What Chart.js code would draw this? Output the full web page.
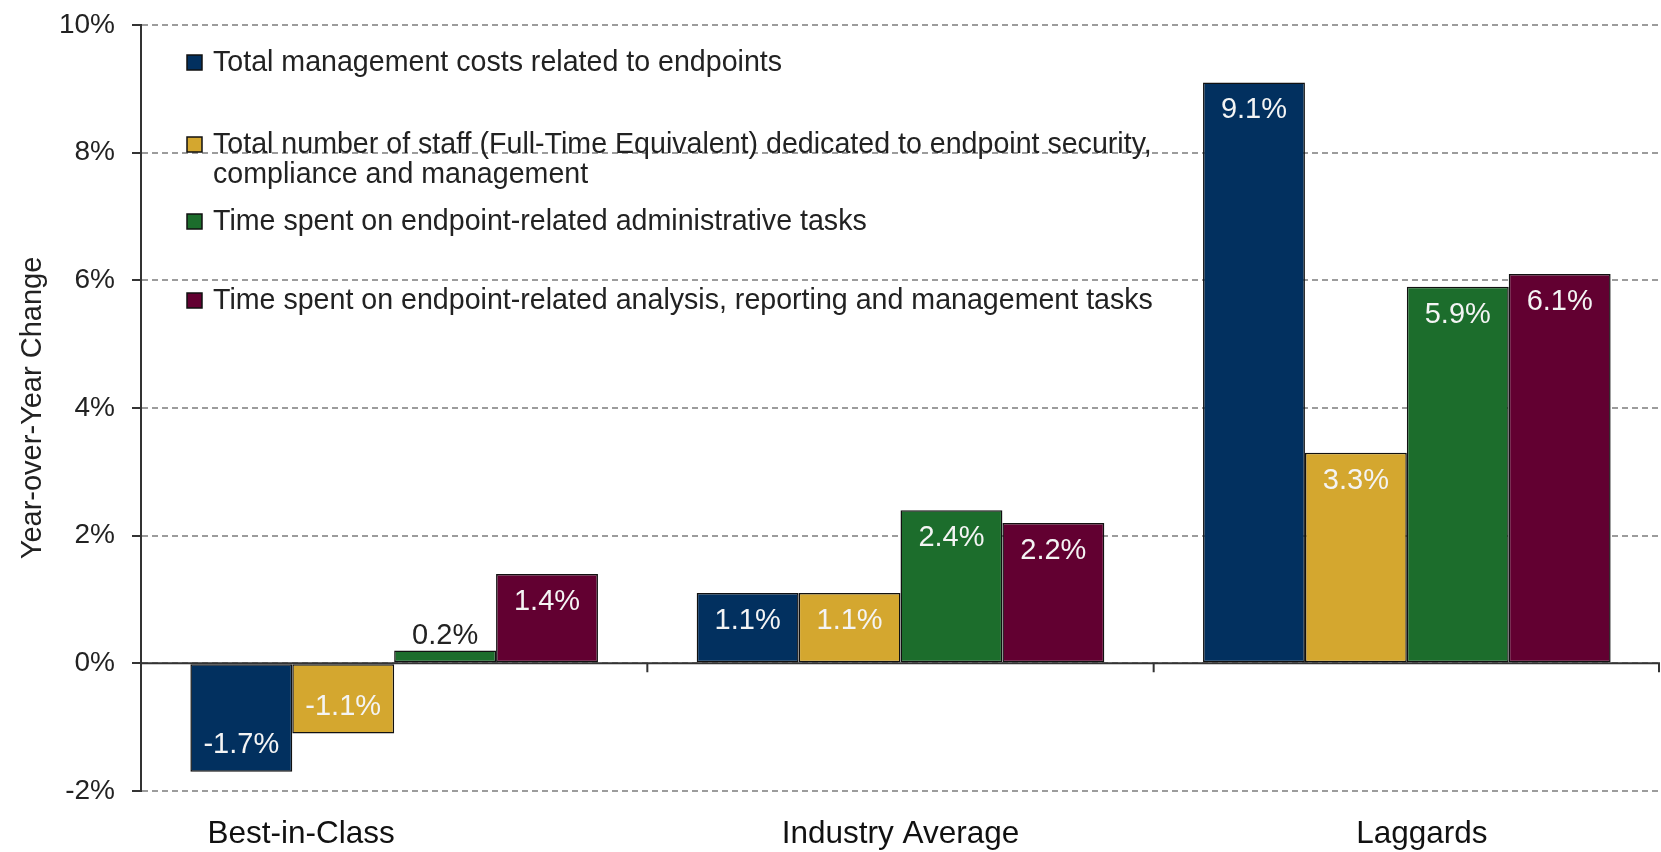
<!DOCTYPE html>
<html>
<head>
<meta charset="utf-8">
<script src="https://cdn.jsdelivr.net/npm/chart.js@4.4.1/dist/chart.umd.min.js"></script>
<style>
  html, body { margin: 0; padding: 0; background: #fff; }
  #chart { display: block; }
</style>
</head>
<body>
<canvas id="chart" width="1661" height="852"></canvas>
<script>
// chart data
const categories = ["Best-in-Class", "Industry Average", "Laggards"];
const seriesLabels = [
    "Total management costs related to endpoints",
    "Total number of staff (Full-Time Equivalent) dedicated to endpoint security,\ncompliance and management",
    "Time spent on endpoint-related administrative tasks",
    "Time spent on endpoint-related analysis, reporting and management tasks",
];
const mgmtCosts = [-1.7, 1.1, 9.1];
const staffFte = [-1.1, 1.1, 3.3];
const adminTime = [0.2, 2.4, 5.9];
const analysisTime = [1.4, 2.2, 6.1];
const seriesColors = ["#02305F", "#D4A72F", "#1C6D2C", "#620031"];
const yMin = -2;
const yMax = 10;
const yStep = 2;

const FONT = "'Liberation Sans', Arial, sans-serif";

// legend rows (centre of first line, relative to chart area top)
const legendRowOffsets = [38, 120, 197, 276];
// the category captions in the original sit off-centre
const categoryLabelShift = [-93, 0, 15];

// zero line + category separator ticks
const zeroLinePlugin = {
    id: "zeroLine",
    beforeDatasetsDraw(chart) {
        const { ctx, chartArea } = chart;
        const y0 = chart.scales.y.getPixelForValue(0);
        const n = categories.length;
        const step = (chartArea.right - chartArea.left) / n;
        ctx.save();
        ctx.strokeStyle = "#333";
        ctx.lineWidth = 2;
        ctx.beginPath();
        ctx.moveTo(chartArea.left, y0);
        ctx.lineTo(chartArea.right, y0);
        for (let i = 1; i <= n; i++) {
            const x = Math.min(chartArea.left + i * step, chartArea.right - 1);
            ctx.moveTo(x, y0);
            ctx.lineTo(x, y0 + 9);
        }
        ctx.stroke();
        ctx.restore();
    },
};

// category captions under the plot
const categoryLabelPlugin = {
    id: "categoryLabels",
    afterDraw(chart) {
        const { ctx, chartArea } = chart;
        const xScale = chart.scales.x;
        ctx.save();
        ctx.font = "31.5px " + FONT;
        ctx.fillStyle = "#111";
        ctx.textAlign = "center";
        ctx.textBaseline = "alphabetic";
        categories.forEach((cat, i) => {
            const x = xScale.getPixelForValue(i) + categoryLabelShift[i];
            ctx.fillText(cat, x, chartArea.bottom + 52);
        });
        ctx.restore();
    },
};

// value labels on the bars
const barLabelPlugin = {
    id: "barLabels",
    afterDatasetsDraw(chart) {
        const ctx = chart.ctx;
        ctx.save();
        ctx.font = "29px " + FONT;
        ctx.textAlign = "center";
        ctx.textBaseline = "middle";
        chart.data.datasets.forEach((ds, i) => {
            const meta = chart.getDatasetMeta(i);
            meta.data.forEach((bar, j) => {
                const v = ds.data[j];
                const h = Math.abs(bar.base - bar.y);
                const text = v.toFixed(1) + "%";
                if (h > 40) {
                    ctx.fillStyle = "#f4f4f4";
                    ctx.fillText(text, bar.x, v >= 0 ? bar.y + 28 : bar.y - 27);
                } else {
                    ctx.fillStyle = "#222";
                    ctx.fillText(text, bar.x, bar.y - 15);
                }
            });
        });
        ctx.restore();
    },
};

// legend drawn inside the plot
const insideLegendPlugin = {
    id: "insideLegend",
    afterDraw(chart) {
        const { ctx, chartArea } = chart;
        ctx.save();
        ctx.font = "28.6px " + FONT;
        ctx.textBaseline = "middle";
        chart.data.datasets.forEach((ds, i) => {
            const y = chartArea.top + legendRowOffsets[i];
            const x = chartArea.left + 46;
            ctx.fillStyle = ds.backgroundColor;
            ctx.fillRect(x, y - 8, 15, 15);
            ctx.strokeStyle = "#111";
            ctx.lineWidth = 1.5;
            ctx.strokeRect(x, y - 8, 15, 15);
            ctx.fillStyle = "#222";
            ds.label.split("\n").forEach((line, k) => {
                ctx.fillText(line, x + 26, y + k * 30);
            });
        });
        ctx.restore();
    },
};

const seriesData = [mgmtCosts, staffFte, adminTime, analysisTime];

const ctx = document.getElementById("chart").getContext("2d");
const chart = new Chart(ctx, {
    type: "bar",
    data: {
        labels: categories,
        datasets: seriesData.map((values, i) => ({
            label: seriesLabels[i],
            data: values,
            backgroundColor: seriesColors[i],
            borderColor: "#111",
            borderWidth: 1.5,
            borderSkipped: false,
            categoryPercentage: 0.805,
            barPercentage: 1.0,
        })),
    },
    options: {
        responsive: false,
        animation: false,
        devicePixelRatio: 1,
        layout: {
            padding: { top: 25, right: 1, bottom: 0, left: 0 },
        },
        scales: {
            x: {
                grid: { display: false },
                border: { display: false },
                ticks: { display: false },
                afterFit: (scale) => {
                    scale.height = 61;
                },
            },
            y: {
                min: yMin,
                max: yMax,
                ticks: {
                    stepSize: yStep,
                    color: "#222",
                    padding: 17,
                    font: { family: FONT, size: 28 },
                    callback: (v) => v + "%",
                },
                grid: {
                    color: "#9c9c9c",
                    lineWidth: 2,
                    tickColor: "#333",
                    tickLength: 9,
                    tickWidth: 2,
                },
                border: {
                    display: true,
                    color: "#333",
                    width: 2,
                    dash: [6, 4],
                },
                title: {
                    display: true,
                    text: "Year-over-Year Change",
                    color: "#222",
                    padding: { top: 16, bottom: 0 },
                    font: { family: FONT, size: 29 },
                },
                afterFit: (scale) => {
                    scale.width = 141;
                    scale.paddingTop = 0;
                    scale.paddingBottom = 0;
                },
            },
        },
        plugins: {
            legend: { display: false },
            tooltip: { enabled: false },
        },
    },
    plugins: [zeroLinePlugin, barLabelPlugin, insideLegendPlugin, categoryLabelPlugin],
});
</script>
</body>
</html>
